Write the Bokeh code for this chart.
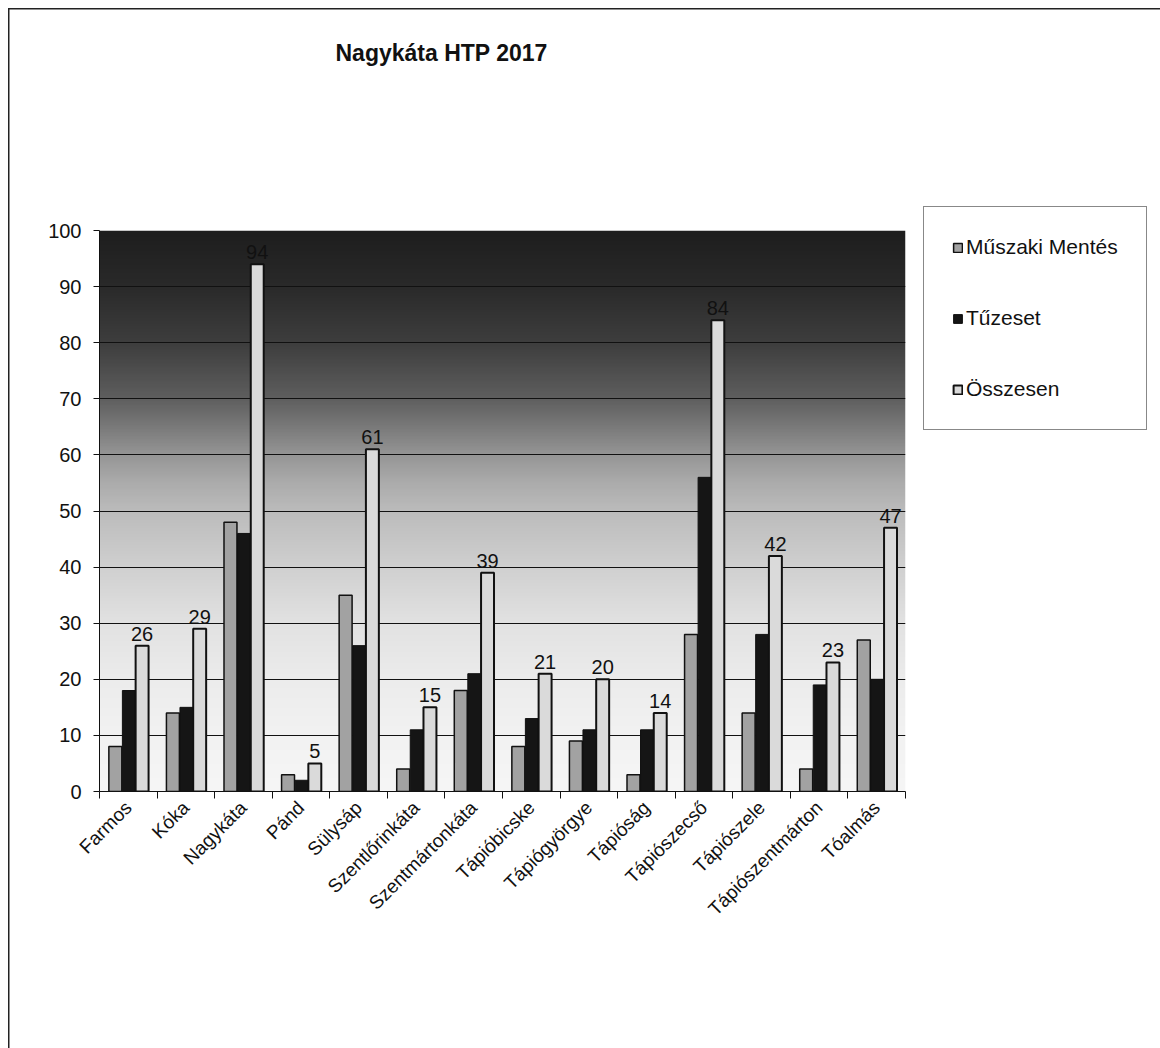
import numpy as np
from math import pi
from bokeh.plotting import figure
from bokeh.models import (Range1d, FixedTicker, Legend, LegendItem, Title, ColumnDataSource)
from bokeh.core.properties import value
from bokeh.embed import file_html
from bokeh.resources import INLINE

# ---- data ----
categories = ["Farmos", "Kóka", "Nagykáta", "Pánd", "Sülysáp", "Szentlőrinkáta",
              "Szentmártonkáta", "Tápióbicske", "Tápiógyörgye", "Tápióság",
              "Tápiószecső", "Tápiószele", "Tápiószentmárton", "Tóalmás"]
muszaki = [8, 14, 48, 3, 35, 4, 18, 8, 9, 3, 28, 14, 4, 27]
tuzeset = [18, 15, 46, 2, 26, 11, 21, 13, 11, 11, 56, 28, 19, 20]
osszesen = [26, 29, 94, 5, 61, 15, 39, 21, 20, 14, 84, 42, 23, 47]
series_names = ["Műszaki Mentés", "Tűzeset", "Összesen"]
y_ticks = list(range(0, 101, 10))

FONT = "Liberation Sans"
n = len(categories)
centers = [i + 0.5 for i in range(n)]

p = figure(frame_width=806, frame_height=561, output_backend="svg", toolbar_location=None,
           x_range=Range1d(0, n), y_range=Range1d(0, 100),
           min_border_left=99, min_border_right=255, min_border_top=230,
           min_border_bottom=257)
# thin frame around the chart on the left and top (drawn by the page, behind a transparent border)
p.styles = {"box-shadow": "inset 8px 8px 0 0 #ffffff, inset 9.5px 9.5px 0 0 #222222",
            "background-color": "#ffffff"}
p.outline_line_color = None
p.background_fill_color = "white"
p.border_fill_alpha = 0.0

# background gradient (styling)
stops_y = [0, 10, 20, 30, 40, 50, 55, 60, 65, 70, 80, 90, 100]
stops_v = [246, 242, 236, 226, 208, 188, 172, 150, 122, 95, 62, 42, 30]
rows = 400
yy = np.linspace(0, 100, rows)
vals = np.interp(yy, stops_y, stops_v).astype(np.uint8)
img = np.zeros((rows, 1), dtype=np.uint32)
view = img.view(dtype=np.uint8).reshape((rows, 1, 4))
view[:, 0, 0] = vals
view[:, 0, 1] = vals
view[:, 0, 2] = vals
view[:, 0, 3] = 255
p.image_rgba(image=[img], x=0, y=0, dw=n, dh=100, level="image")

# grid
p.xgrid.visible = False
p.ygrid.ticker = FixedTicker(ticks=y_ticks)
p.ygrid.grid_line_color = "#111111"
p.ygrid.grid_line_width = 1

# bars
offsets = [-0.225, 0.01, 0.24]
bw = 0.225
fills = ["#a2a2a2", "#151515", "#dadada"]
lws = [1.5, 1.0, 2.0]
renderers = []
for s, (vals_s, off, fc, lw) in enumerate(zip([muszaki, tuzeset, osszesen], offsets, fills, lws)):
    src = ColumnDataSource(dict(x=[c + off for c in centers], top=vals_s))
    r = p.vbar(x="x", top="top", width=bw, bottom=0, source=src,
               fill_color=fc, line_color="#111111", line_width=lw)
    renderers.append(r)

# labels above totals
lab_src = ColumnDataSource(dict(x=[c + offsets[2] for c in centers], y=osszesen,
                                t=[str(v) for v in osszesen]))
p.text(x="x", y="y", text="t", source=lab_src, text_align="center", text_baseline="bottom",
       y_offset=-5, text_font=value(FONT), text_font_size="20px", text_color="#111111")

# y axis
p.yaxis.ticker = FixedTicker(ticks=y_ticks)
p.yaxis.major_label_text_font = FONT
p.yaxis.major_label_text_font_size = "20px"
p.yaxis.major_label_text_color = "#111111"
p.yaxis.axis_line_color = "#111111"
p.yaxis.major_tick_line_color = "#111111"
p.yaxis.major_tick_out = 6
p.yaxis.major_tick_in = 0
p.yaxis.minor_tick_line_color = None
p.yaxis.major_label_standoff = 12

# x axis: labels at centers, ticks at boundaries
p.xaxis.ticker = FixedTicker(ticks=centers, minor_ticks=list(range(n + 1)))
p.xaxis.major_label_overrides = {c: name for c, name in zip(centers, categories)}
p.xaxis.major_label_orientation = pi / 4
p.xaxis.major_label_text_font = FONT
p.xaxis.major_label_text_font_size = "19px"
p.xaxis.major_label_text_color = "#111111"
p.xaxis.major_tick_line_color = None
p.xaxis.minor_tick_line_color = "#111111"
p.xaxis.minor_tick_out = 7
p.xaxis.minor_tick_in = 0
p.xaxis.axis_line_color = "#111111"
p.xaxis.major_label_standoff = 6

# spacer between frame and title, then the title itself
spacer = Title(text=" ", text_font=FONT, text_font_size="20px", standoff=136)
p.add_layout(spacer, "above")
t = Title(text="Nagykáta HTP 2017", text_font=FONT, text_font_size="23px",
          text_font_style="bold", text_color="#111111", align="left", offset=236,
          vertical_align="bottom", standoff=10)
p.add_layout(t, "above")

# legend
legend = Legend(items=[LegendItem(label=nm, renderers=[r]) for nm, r in zip(series_names, renderers)],
                location=(18, 361), label_text_font=FONT, label_text_font_size="21px",
                label_text_color="#111111", glyph_width=11, glyph_height=11,
                label_height=20, spacing=47, padding=28, label_standoff=3,
                border_line_color="#111111", border_line_width=1.2,
                background_fill_color="white", background_fill_alpha=1.0, margin=0)
p.add_layout(legend, "right")

open("out.html", "w").write(file_html(p, INLINE))
